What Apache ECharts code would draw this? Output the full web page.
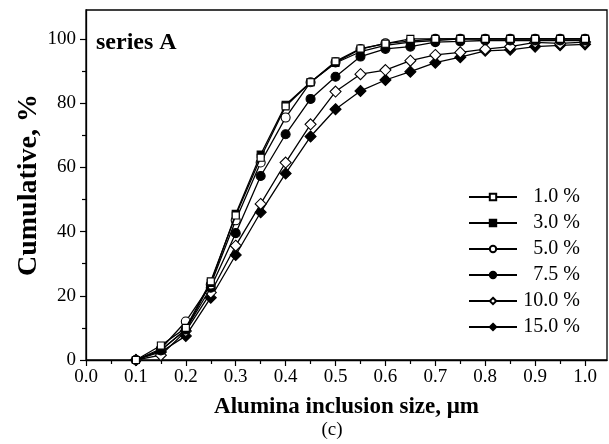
<!DOCTYPE html>
<html><head><meta charset="utf-8">
<script src="https://cdn.jsdelivr.net/npm/echarts@6/dist/echarts.min.js"></script>
<style>html,body{margin:0;padding:0;background:#fff}#c{width:609px;height:444px}</style>
</head><body><div id="c"></div>
<script>
var sizes = [0.10,0.15,0.20,0.25,0.30,0.35,0.40,0.45,0.50,0.55,0.60,0.65,0.70,0.75,0.80,0.85,0.90,0.95,1.00];
var s1 = [0, 4.5, 10, 24.5, 45, 63, 79, 86.5, 93, 97, 98.5, 100, 100, 100, 100, 100, 100, 100, 100];
var s3 = [0, 3, 9.5, 24, 45.5, 64, 79.5, 86.5, 92.5, 96, 98, 99, 99.5, 100, 100, 100, 100, 100, 100];
var s5 = [0, 3.5, 12, 23.5, 43.5, 61.5, 75.5, 86.5, 92.7, 96.8, 98.6, 99.3, 100, 100, 100, 100, 100, 100, 100];
var s75 = [0, 3, 9.5, 22.5, 39.5, 57.3, 70.3, 81.3, 88.2, 94.5, 96.9, 97.6, 99, 99.2, 99.5, 99.5, 99.5, 99.5, 99.5];
var s10 = [0, 1.5, 9, 21, 35.6, 48.6, 61.5, 73.4, 83.6, 89, 90.3, 93.2, 95, 95.8, 96.8, 97.6, 98.9, 98.6, 99];
var s15 = [0, 2.5, 7.5, 19.4, 32.7, 46, 58.1, 69.6, 78.1, 83.8, 87.2, 89.8, 92.6, 94.3, 96.3, 96.6, 97.6, 98, 98.3];
var names = ['1.0 %','3.0 %','5.0 %','7.5 %','10.0 %','15.0 %'];
var xMajor = [0,0.1,0.2,0.3,0.4,0.5,0.6,0.7,0.8,0.9,1.0];
var xMinor = [0.05,0.15,0.25,0.35,0.45,0.55,0.65,0.75,0.85,0.95];
var yMajor = [0,20,40,60,80,100];
var yMinor = [10,30,50,70,90];

var F = '"Liberation Serif","Times New Roman",serif';
function pairs(v){ return sizes.map(function(x,i){ return [x, v[i]]; }); }
var defs = [
  {d:s1, sym:'rect', fill:'#fff', size:7},
  {d:s3, sym:'rect', fill:'#000', size:7},
  {d:s5, sym:'circle', fill:'#fff', size:9},
  {d:s75, sym:'circle', fill:'#000', size:9},
  {d:s10, sym:'diamond', fill:'#fff', size:11},
  {d:s15, sym:'diamond', fill:'#000', size:11}
];
var series = defs.map(function(o,i){
  return {
    name: names[i], type:'line', data: pairs(o.d), symbol:o.sym, symbolSize:o.size,
    showAllSymbol:true, z: 10-i,
    lineStyle:{color:'#000', width:1.3},
    itemStyle:{color:o.fill, borderColor:'#000', borderWidth:1.1},
    emphasis:{disabled:true}
  };
});
var chart = echarts.init(document.getElementById('c'), null, {renderer:'canvas'});
chart.setOption({
  animation:false,
  backgroundColor:'#fff',
  title:[
    {text:'series A', left:96, top:31, padding:0, textStyle:{fontFamily:F, fontWeight:'bold', fontSize:24, color:'#000'}},
    {text:'(c)', left:332, top:421, padding:0, textAlign:'center', textStyle:{fontFamily:F, fontWeight:'normal', fontSize:19, color:'#000'}}
  ],
  grid:{left:86, right:2, top:10, bottom:84, show:true, borderColor:'#000', borderWidth:1.3, backgroundColor:'transparent'},
  legend:{
    orient:'vertical', left:468, top:187, padding:0, itemWidth:48, itemHeight:8, itemGap:6,
    data:names, selectedMode:false,
    textStyle:{fontFamily:F, fontSize:20, color:'#000', lineHeight:20,
      rich:{r:{fontFamily:F, fontSize:20, width:58, align:'right', lineHeight:20}}},
    formatter:function(n){ return '{r|' + n + '}'; }
  },
  xAxis:[{
    type:'value', min:0, max:1.044, position:'bottom',
    name:'Alumina inclusion size, μm', nameLocation:'middle', nameGap:36, nameMoveOverlap:false,
    nameTextStyle:{fontFamily:F, fontWeight:'bold', fontSize:23, color:'#000'},
    axisLine:{show:true, onZero:false, lineStyle:{color:'#000', width:1.3}},
    axisTick:{show:true, inside:false, length:6, customValues:xMajor, lineStyle:{color:'#000', width:1.2}},
    axisLabel:{customValues:xMajor, margin:8, fontFamily:F, fontSize:19, color:'#000',
      formatter:function(v){ return v.toFixed(1); }},
    splitLine:{show:false}
  },{
    type:'value', min:0, max:1.044, position:'bottom', gridIndex:0,
    axisLine:{show:false},
    axisTick:{show:true, inside:false, length:4, customValues:xMinor, lineStyle:{color:'#000', width:1.2}},
    axisLabel:{show:false}, splitLine:{show:false}
  }],
  yAxis:[{
    type:'value', min:0, max:109, position:'left',
    name:'Cumulative, %', nameLocation:'middle', nameGap:43, nameMoveOverlap:false,
    nameTextStyle:{fontFamily:F, fontWeight:'bold', fontSize:28, color:'#000'},
    axisLine:{show:true, onZero:false, lineStyle:{color:'#000', width:1.3}},
    axisTick:{show:true, inside:false, length:6, customValues:yMajor, lineStyle:{color:'#000', width:1.2}},
    axisLabel:{customValues:yMajor, margin:10, fontFamily:F, fontSize:19, color:'#000'},
    splitLine:{show:false}
  },{
    type:'value', min:0, max:109, position:'left',
    axisLine:{show:false},
    axisTick:{show:true, inside:false, length:4, customValues:yMinor, lineStyle:{color:'#000', width:1.2}},
    axisLabel:{show:false}, splitLine:{show:false}
  }],
  series: series
});
</script>
</body></html>
